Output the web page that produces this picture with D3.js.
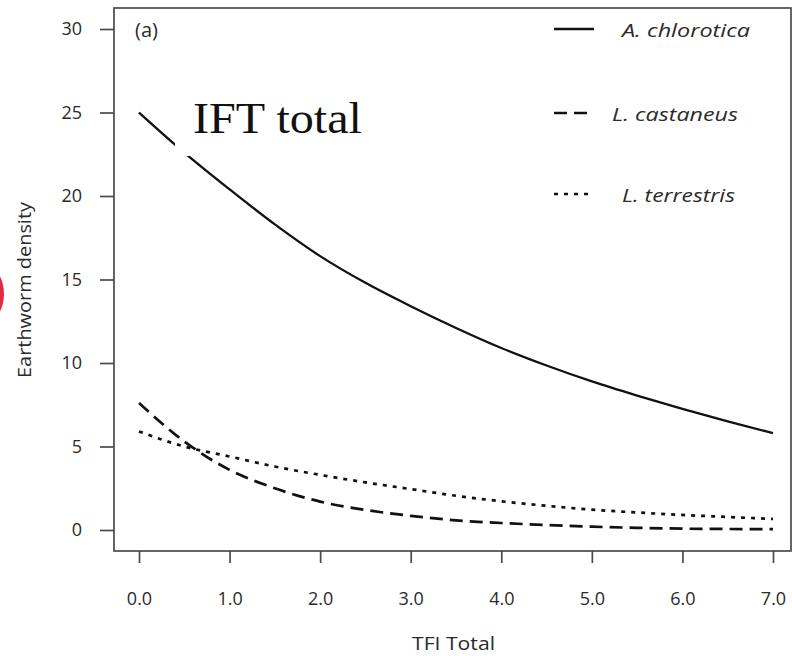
<!DOCTYPE html>
<html><head><meta charset="utf-8">
<script src="https://cdn.jsdelivr.net/npm/d3@7"></script>
<style>body{margin:0;background:#fff}svg{display:block}</style>
</head><body>
<script>
const xValues = [0,0.5,1,1.5,2,2.5,3,3.5,4,4.5,5,5.5,6,6.5,7];
const chlorotica = [25,22.6,20.4,18.3,16.4,14.8,13.4,12.1,10.9,9.85,8.9,8.05,7.25,6.5,5.8];
const castaneus = [7.6,5.3,3.6,2.5,1.7,1.2,0.85,0.58,0.42,0.3,0.2,0.13,0.08,0.06,0.05];
const terrestris = [5.9,5.0,4.4,3.8,3.3,2.85,2.45,2.05,1.72,1.45,1.22,1.05,0.9,0.78,0.66];
const seriesNames = ["A. chlorotica","L. castaneus","L. terrestris"];
const xTicks = [0,1,2,3,4,5,6,7];
const yTicks = [0,5,10,15,20,25,30];

const W=792,H=656;
const svg=d3.select("body").append("svg").attr("width",W).attr("height",H);
const x=d3.scaleLinear().domain([0,7]).range([139,773]);
const y=d3.scaleLinear().domain([0,30]).range([530,29]);
const font="'Open Sans', sans-serif";
const axisCol="#4a4a4a";
const txtCol="#2a2a2a";

// red artifact at left edge
svg.append("ellipse").attr("cx",-13).attr("cy",294).attr("rx",17).attr("ry",27).attr("fill","#e3122e").attr("opacity",0.9);

// box
svg.append("rect").attr("x",114).attr("y",8).attr("width",677).attr("height",543)
  .attr("fill","none").attr("stroke",axisCol).attr("stroke-width",1.7);

// y axis
const ya=svg.append("g").attr("transform","translate(114,0)")
  .call(d3.axisLeft(y).tickValues(yTicks).tickSize(14).tickPadding(18).tickFormat(d3.format("d")));
ya.select(".domain").remove();
ya.selectAll("line").attr("stroke",axisCol).attr("stroke-width",1.7);
ya.selectAll("text").attr("font-family",font).attr("font-size",18).attr("fill",txtCol);

// x axis
const xa=svg.append("g").attr("transform","translate(0,551)")
  .call(d3.axisBottom(x).tickValues(xTicks).tickSize(12).tickPadding(29).tickFormat(d3.format(".1f")));
xa.select(".domain").remove();
xa.selectAll("line").attr("stroke",axisCol).attr("stroke-width",1.7);
xa.selectAll("text").attr("font-family",font).attr("font-size",18).attr("fill",txtCol);

// axis titles
svg.append("text").attr("x",412).attr("y",650)
  .attr("font-family",font).attr("font-size",19).attr("textLength",83).attr("lengthAdjust","spacingAndGlyphs")
  .attr("fill",txtCol).text("TFI Total");
svg.append("text").attr("transform","translate(31,378) rotate(-90)")
  .attr("font-family",font).attr("font-size",18).attr("textLength",176).attr("lengthAdjust","spacingAndGlyphs")
  .attr("fill",txtCol).text("Earthworm density");

// panel label
svg.append("text").attr("x",135).attr("y",37).attr("font-family",font).attr("font-size",20).attr("fill",txtCol).text("(a)");

const line=d3.line().x((d,i)=>x(xValues[i])).y(d=>y(d)).curve(d3.curveMonotoneX);
const styles=[{dash:null,w:2.3},{dash:"13,7",w:2.7},{dash:"4,6",w:2.7}];
[chlorotica,castaneus,terrestris].forEach((s,i)=>{
  svg.append("path").datum(s).attr("d",line).attr("fill","none").attr("stroke","#111")
    .attr("stroke-width",styles[i].w).attr("stroke-dasharray",styles[i].dash);
});

// legend
const legY=[29,113,194], legTx=[622,612,622], legW=[128,126,113];
seriesNames.forEach((n,i)=>{
  svg.append("line").attr("x1",554).attr("x2",594).attr("y1",legY[i]).attr("y2",legY[i])
    .attr("stroke","#111").attr("stroke-width",styles[i].w).attr("stroke-dasharray",styles[i].dash);
  svg.append("text").attr("x",legTx[i]).attr("y",legY[i]+8).attr("font-family",font)
    .attr("font-style","italic").attr("font-size",19).attr("textLength",legW[i]).attr("lengthAdjust","spacingAndGlyphs")
    .attr("fill",txtCol).text(n);
});

// overlay label with white background
svg.append("rect").attr("x",175).attr("y",90).attr("width",195).attr("height",66).attr("fill","#fff");
svg.append("text").attr("x",193).attr("y",133).attr("font-family","'Liberation Serif', serif")
  .attr("font-size",44).attr("textLength",169).attr("lengthAdjust","spacingAndGlyphs").attr("fill","#111").text("IFT total");
</script>
</body></html>
